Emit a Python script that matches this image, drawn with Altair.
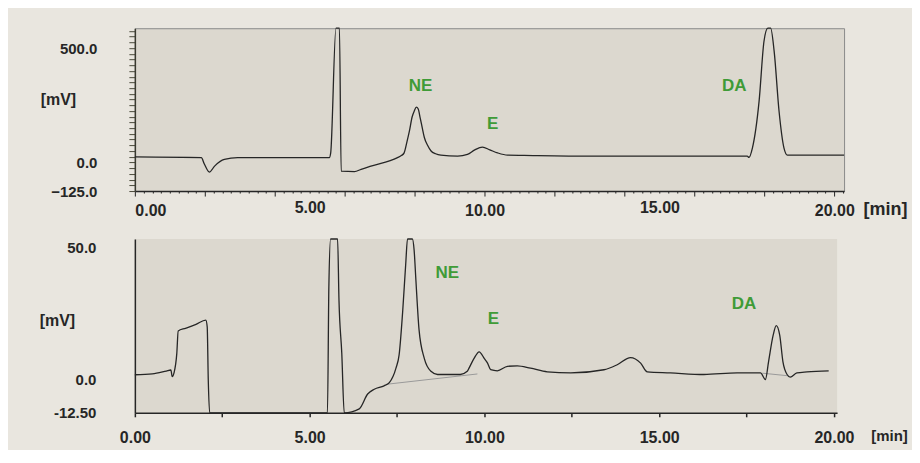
import altair as alt
import pandas as pd

# ---- top chromatogram (time in min, signal in mV) ----
top_t = [0.0, 1.90, 1.99, 2.13, 2.28, 2.56, 2.94, 5.56, 5.60, 5.75, 5.85, 5.90, 6.28, 6.47,
         6.75, 7.51, 7.62, 7.70, 7.78, 7.85, 7.93, 7.99, 8.05, 8.10, 8.16, 8.22, 8.28, 8.37,
         8.47, 8.60, 8.75, 9.23, 9.51, 9.72, 9.94, 10.15, 10.37, 10.66, 11.13, 13.04, 17.51,
         17.56, 17.66, 17.85, 17.99, 18.10, 18.18, 18.28, 18.42, 18.56, 18.66, 20.28]
top_mv = [24, 21, -8, -42, -16, 13, 21, 21, 42, 587, 587, -38, -40, -30,
          -16, 21, 30, 42, 90, 137, 200, 225, 242, 235, 194, 150, 108, 75,
          50, 38, 32, 28, 35, 55, 67, 55, 42, 32, 31, 28, 28,
          22, 64, 268, 530, 587, 587, 487, 225, 64, 32, 32]

# ---- bottom chromatogram ----
bot_t = [0.0, 0.5, 0.9, 1.03, 1.07, 1.12, 1.20, 1.24, 1.45, 1.75, 2.03, 2.07, 2.10, 2.14,
         5.51, 5.55, 5.60, 5.80, 5.84, 5.92, 5.99, 6.42, 6.66, 6.85, 7.13, 7.28, 7.47, 7.56,
         7.66, 7.75, 7.80, 7.94, 7.99, 8.04, 8.13, 8.28, 8.47, 8.66, 9.31, 9.51, 9.56, 9.70,
         9.85, 10.00, 10.09, 10.18, 10.37, 10.66, 10.94, 11.32, 11.80, 12.47, 13.42, 13.80,
         14.18, 14.47, 14.66, 15.32, 16.28, 17.23, 17.90, 18.04, 18.13, 18.26, 18.35, 18.45,
         18.54, 18.66, 18.75, 18.94, 19.23, 19.85]
bot_mv = [1.9, 2.2, 3.3, 3.7, 1.2, 2.6, 10.0, 18.5, 19.5, 21.0, 22.6, 20.0, 0.0, -12.5,
          -12.5, 35.0, 53.3, 53.3, 30.0, 10.0, -12.5, -11.0, -5.4, -3.6, -2.3, -1.1, 4.4, 9.4,
          25.5, 44.0, 53.3, 53.3, 49.0, 37.8, 19.0, 8.1, 3.2, 2.0, 2.0, 3.2, 4.4, 8.0,
          10.6, 8.0, 6.3, 3.8, 3.4, 5.1, 5.3, 4.4, 3.0, 2.6, 3.8, 5.7,
          8.4, 6.3, 3.0, 2.6, 2.0, 2.6, 2.6, 0.1, 6.9, 16.8, 20.5, 16.8,
          6.9, 2.0, 1.0, 2.6, 3.0, 3.4]

# integration baselines in the bottom trace
base_seg = ["NE", "NE", "DA", "DA"]
base_t = [7.20, 9.80, 17.95, 18.70]
base_mv = [-1.7, 2.2, 2.5, 1.5]

# peak names
peak_names = ["NE", "E", "DA"]
top_lab_t = [8.17, 10.23, 17.14]
top_lab_mv = [334, 168, 334]
bot_lab_t = [8.94, 10.26, 17.43]
bot_lab_mv = [40.4, 23.0, 28.5]

top_df = pd.DataFrame({"t": top_t, "mv": top_mv})
bot_df = pd.DataFrame({"t": bot_t, "mv": bot_mv})
base_df = pd.DataFrame({"seg": base_seg, "t": base_t, "mv": base_mv})
top_lab = pd.DataFrame({"name": peak_names, "t": top_lab_t, "mv": top_lab_mv})
bot_lab = pd.DataFrame({"name": peak_names, "t": bot_lab_t, "mv": bot_lab_mv})

INK = "#262626"
GREEN = "#3f9b37"
FONT = "Liberation Sans"
PLOT_FILL = "#dcd8cf"

top_xticks = [i * 0.25 for i in range(0, 82)]
top_yticks = list(range(-125, 576, 25))
bot_xticks = [i * 2.5 for i in range(0, 9)]

x_top = alt.X(
    "t:Q",
    scale=alt.Scale(domain=[0, 20.28], nice=False, zero=False),
    axis=alt.Axis(
        values=top_xticks, tickCount=500,
        labelExpr="datum.value % 5 === 0 ? format(datum.value, '.2f') : ''",
        labelFlush=False,
        labelAlign={"condition": {"test": "datum.value === 0", "value": "left"}, "value": "center"},
        tickSize={"condition": {"test": "datum.value % 2 === 0", "value": 5}, "value": 2},
        labelPadding=6, grid=False, domainColor=INK, domainWidth=1.5, tickColor=INK,
        labelFont=FONT, labelFontSize=16, labelFontWeight="bold", labelColor=INK,
        title="[min]", titleAngle=0, titleX=751, titleY=18, titleAlign="center",
        titleBaseline="middle", titleFont=FONT, titleFontSize=18, titleFontWeight="bold",
        titleColor=INK, labelOverlap=False,
    ),
)
y_top = alt.Y(
    "mv:Q",
    scale=alt.Scale(domain=[-125, 587], nice=False, zero=False),
    axis=alt.Axis(
        values=top_yticks, tickCount=500,
        labelExpr="(datum.value === 500 || datum.value === 0 || datum.value === -125) ? format(datum.value, '.1f') : ''",
        tickSize=6, labelPadding=32, grid=False, domainColor="#3a3a30", domainWidth=1.5,
        tickColor="#4a4a3a", labelFont=FONT, labelFontSize=15, labelFontWeight="bold",
        labelColor=INK, labelOverlap=False, labelFlush=False,
        title="[mV]", titleAngle=0, titleX=-77, titleY=71, titleAlign="center",
        titleBaseline="middle", titleFont=FONT, titleFontSize=16, titleFontWeight="bold",
        titleColor=INK,
    ),
)

top_line = alt.Chart(top_df).mark_line(color=INK, strokeWidth=1.3, interpolate="monotone").encode(
    x=x_top, y=y_top, order="t:Q"
)
top_text = alt.Chart(top_lab).mark_text(
    color=GREEN, font=FONT, fontSize=17, fontWeight="bold", align="center", baseline="middle"
).encode(x="t:Q", y="mv:Q", text="name:N")

top_chart = alt.layer(top_line, top_text).properties(
    width=710, height=163,
    view=alt.ViewBackground(fill=PLOT_FILL, stroke="#8a8a8a", strokeWidth=1),
)

x_bot = alt.X(
    "t:Q",
    scale=alt.Scale(domain=[0, 20.09], nice=False, zero=False),
    axis=alt.Axis(
        values=bot_xticks, tickCount=500,
        labelExpr="datum.value % 5 === 0 ? format(datum.value, '.2f') : ''",
        tickSize=4, labelPadding=13, grid=False, domainColor=INK, domainWidth=1.5,
        tickColor=INK, tickWidth=1.5, labelFont=FONT, labelFontSize=16, labelFontWeight="bold",
        labelColor=INK, labelOverlap=False, labelFlush=False,
        title="[min]", titleAngle=0, titleX=755, titleY=23, titleAlign="center",
        titleBaseline="middle", titleFont=FONT, titleFontSize=15, titleFontWeight="bold",
        titleColor=INK,
    ),
)
y_bot = alt.Y(
    "mv:Q",
    scale=alt.Scale(domain=[-12.5, 53.3], nice=False, zero=False),
    axis=alt.Axis(
        values=[-12.5, 0, 50], tickCount=500,
        labelExpr="datum.value === -12.5 ? '-12.50' : format(datum.value, '.1f')",
        ticks=False, labelPadding=39, grid=False, domainColor=INK, domainWidth=1.5,
        labelFont=FONT, labelFontSize=15, labelFontWeight="bold", labelColor=INK,
        labelOverlap=False, labelFlush=False,
        title="[mV]", titleAngle=0, titleX=-78, titleY=82, titleAlign="center",
        titleBaseline="middle", titleFont=FONT, titleFontSize=16, titleFontWeight="bold",
        titleColor=INK,
    ),
)

bot_base = alt.Chart(base_df).mark_line(color="#9a9a9a", strokeWidth=1).encode(
    x=x_bot, y=y_bot, detail="seg:N"
)
bot_line = alt.Chart(bot_df).mark_line(color=INK, strokeWidth=1.3, interpolate="monotone").encode(
    x="t:Q", y="mv:Q", order="t:Q"
)
bot_text = alt.Chart(bot_lab).mark_text(
    color=GREEN, font=FONT, fontSize=17, fontWeight="bold", align="center", baseline="middle"
).encode(x="t:Q", y="mv:Q", text="name:N")

bot_chart = alt.layer(bot_base, bot_line, bot_text).properties(
    width=703, height=174,
    view=alt.ViewBackground(fill=PLOT_FILL, stroke=None),
)

chart = alt.vconcat(top_chart, bot_chart, spacing=48, bounds="flush").properties(
    background="#e9e6df",
    padding={"left": 31, "top": 15, "right": 4, "bottom": 4},
)

chart.save("out.html", embed_options={"renderer": "svg", "actions": False})
